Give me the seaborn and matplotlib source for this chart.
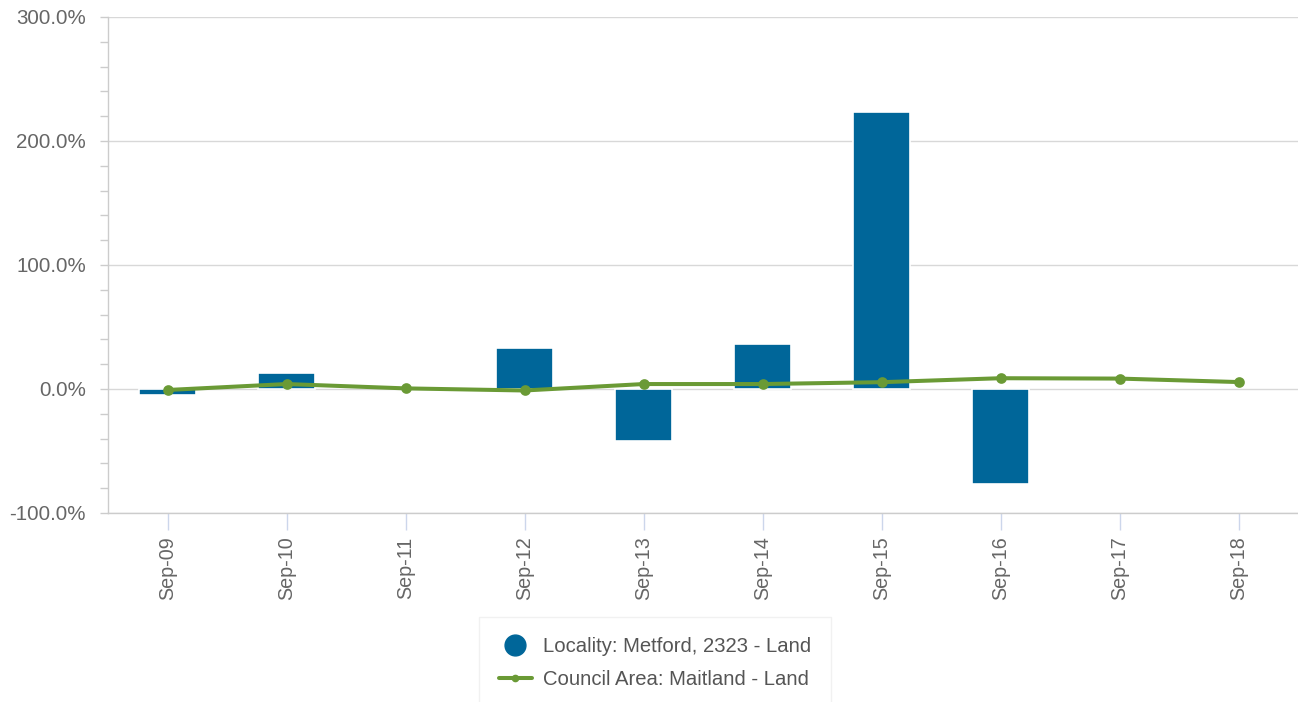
import numpy as np
import pandas as pd
import seaborn as sns
import matplotlib.pyplot as plt
from matplotlib.lines import Line2D
from matplotlib.ticker import FuncFormatter, MultipleLocator

# Dados
periodos = ['Sep-09', 'Sep-10', 'Sep-11', 'Sep-12', 'Sep-13',
            'Sep-14', 'Sep-15', 'Sep-16', 'Sep-17', 'Sep-18']
localidade = [-5.0, 13.0, np.nan, 33.0, -42.0, 36.0, 223.0, -77.0, np.nan, np.nan]
conselho = [-0.8, 4.0, 0.5, -1.2, 4.0, 4.0, 5.5, 8.7, 8.4, 5.6]

nome_localidade = 'Locality: Metford, 2323 - Land'
nome_conselho = 'Council Area: Maitland - Land'

cor_barra = '#006699'
cor_linha = '#6a9a35'
cor_texto = '#666666'

dados = pd.DataFrame({'periodo': periodos, 'localidade': localidade, 'conselho': conselho})

sns.set_style('white')
plt.rcParams['font.family'] = ['Liberation Sans', 'DejaVu Sans']

fig = plt.figure(figsize=(12.98, 7.02), dpi=100)
ax = fig.add_axes([108 / 1298, 1 - 513 / 702, 1 - 108 / 1298, (513 - 17) / 702])

# Barras da localidade
sns.barplot(data=dados, x='periodo', y='localidade', order=periodos, color=cor_barra,
            saturation=1, width=0.48, edgecolor='white', linewidth=1.2, ax=ax, zorder=2)

# Linha da área do conselho
sns.pointplot(data=dados, x='periodo', y='conselho', order=periodos, color=cor_linha,
              markers='o', markersize=5.5, linewidth=2.9, ax=ax, zorder=3)

ax.set_xlim(-0.5, len(periodos) - 0.5)
ax.set_ylim(-100, 300)
ax.set_xlabel('')
ax.set_ylabel('')

ax.yaxis.set_major_locator(MultipleLocator(100))
ax.yaxis.set_minor_locator(MultipleLocator(20))
ax.yaxis.set_major_formatter(FuncFormatter(lambda v, p: f'{v:.1f}%'))
ax.grid(axis='y', which='major', color='#d8d8d8', linewidth=1, zorder=0)
ax.set_axisbelow(True)

ax.tick_params(axis='y', which='both', left=True, length=6, width=1, color='#cccccc',
               pad=10, labelsize=14.8, labelcolor=cor_texto)
ax.tick_params(axis='x', bottom=True, length=12, width=1, color='#ccd6eb',
               pad=5, labelsize=14.2, labelcolor=cor_texto, labelrotation=90)

for lado in ['top', 'right']:
    ax.spines[lado].set_visible(False)
for lado in ['left', 'bottom']:
    ax.spines[lado].set_color('#cccccc')
    ax.spines[lado].set_linewidth(1)

# Legenda
alcas = [
    Line2D([], [], linestyle='none', marker='o', markersize=15, color=cor_barra),
    Line2D([], [], color=cor_linha, linewidth=2.9, marker='o', markersize=4.5),
]
leg = fig.legend(alcas, [nome_localidade, nome_conselho], loc='upper center',
                 bbox_to_anchor=(655 / 1298, 1 - 617 / 702), borderaxespad=0,
                 frameon=True, fontsize=14.6, handlelength=1.6, handletextpad=0.55,
                 borderpad=1.0, labelspacing=0.7, fancybox=False)
leg.get_frame().set_edgecolor('#eeeeee')
leg.get_frame().set_linewidth(1)
for t in leg.get_texts():
    t.set_color('#555555')

fig.savefig('out.png', dpi=100)
